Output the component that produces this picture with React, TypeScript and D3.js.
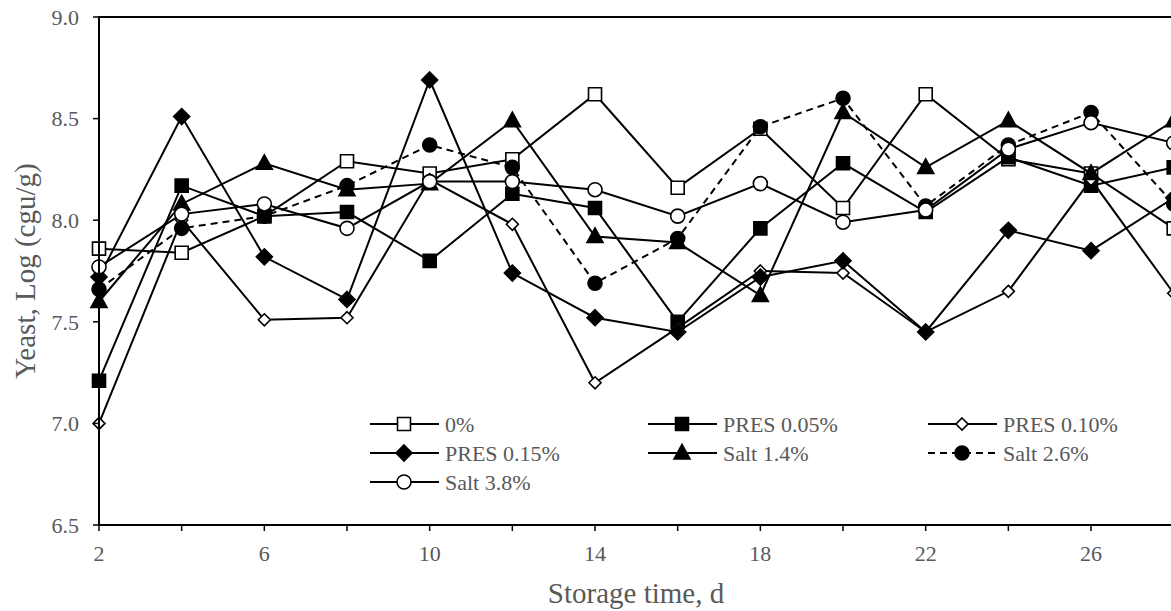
import React from 'react';
import * as d3 from 'd3';

// storage days
const days = [2, 4, 6, 8, 10, 12, 14, 16, 18, 20, 22, 24, 26, 28];

// yeast counts, log cgu/g
const control = [7.86, 7.84, 8.02, 8.29, 8.23, 8.30, 8.62, 8.16, 8.45, 8.06, 8.62, 8.30, 8.23, 7.96];
const pres005 = [7.21, 8.17, 8.02, 8.04, 7.80, 8.13, 8.06, 7.50, 7.96, 8.28, 8.04, 8.31, 8.17, 8.26];
const pres010 = [7.00, 8.00, 7.51, 7.52, 8.20, 7.98, 7.20, 7.47, 7.75, 7.74, 7.45, 7.65, 8.20, 7.64];
const pres015 = [7.72, 8.51, 7.82, 7.61, 8.69, 7.74, 7.52, 7.45, 7.72, 7.80, 7.45, 7.95, 7.85, 8.11];
const salt14 = [7.60, 8.08, 8.28, 8.15, 8.18, 8.49, 7.92, 7.89, 7.63, 8.53, 8.26, 8.49, 8.23, 8.49];
const salt26 = [7.66, 7.96, 8.02, 8.17, 8.37, 8.26, 7.69, 7.91, 8.46, 8.60, 8.07, 8.37, 8.53, 8.08];
const salt38 = [7.77, 8.03, 8.08, 7.96, 8.19, 8.19, 8.15, 8.02, 8.18, 7.99, 8.05, 8.35, 8.48, 8.38];

const xTickDays = [2, 4, 6, 8, 10, 12, 14, 16, 18, 20, 22, 24, 26, 28];
const xTickLabels = ['2', '6', '10', '14', '18', '22', '26'];
const yTickLabels = ['6.5', '7.0', '7.5', '8.0', '8.5', '9.0'];

type Marker = 'square' | 'diamond' | 'smallDiamond' | 'triangle' | 'circle';

const series = [
  { name: '0%', values: control, marker: 'square' as Marker, filled: false, dashed: false },
  { name: 'PRES 0.05%', values: pres005, marker: 'square' as Marker, filled: true, dashed: false },
  { name: 'PRES 0.10%', values: pres010, marker: 'smallDiamond' as Marker, filled: false, dashed: false },
  { name: 'PRES 0.15%', values: pres015, marker: 'diamond' as Marker, filled: true, dashed: false },
  { name: 'Salt 1.4%', values: salt14, marker: 'triangle' as Marker, filled: true, dashed: false },
  { name: 'Salt 2.6%', values: salt26, marker: 'circle' as Marker, filled: true, dashed: true },
  { name: 'Salt 3.8%', values: salt38, marker: 'circle' as Marker, filled: false, dashed: false },
];

const W = 1171;
const H = 611;
const textColor = '#595959';
const font = '"Liberation Serif", "Times New Roman", serif';

const x = d3.scaleLinear().domain([2, 28]).range([99, 1173.7]);
const y = d3.scaleLinear().domain([6.5, 9]).range([525, 17]);

function markerPath(m: Marker, cx: number, cy: number) {
  switch (m) {
    case 'square':
      return `M${cx - 6.5},${cy - 6.5}h13v13h-13Z`;
    case 'diamond':
      return `M${cx},${cy - 8}L${cx + 8},${cy}L${cx},${cy + 8}L${cx - 8},${cy}Z`;
    case 'smallDiamond':
      return `M${cx},${cy - 6}L${cx + 6},${cy}L${cx},${cy + 6}L${cx - 6},${cy}Z`;
    default:
      return `M${cx},${cy - 8.5}L${cx + 8},${cy + 6}L${cx - 8},${cy + 6}Z`;
  }
}

function MarkerShape({ m, cx, cy, filled }: { m: Marker; cx: number; cy: number; filled: boolean }) {
  const fill = filled ? '#000' : '#fff';
  if (m === 'circle') {
    return <circle cx={cx} cy={cy} r={7} fill={fill} stroke="#000" strokeWidth={1.6} />;
  }
  return <path d={markerPath(m, cx, cy)} fill={fill} stroke="#000" strokeWidth={1.6} />;
}

const legendCols = [370, 648, 928];
const legendRows = [424, 453, 482];

export default function App() {
  const line = d3
    .line<number>()
    .x((_, i) => x(days[i]))
    .y(d => y(d));

  const yTicks = d3.range(6.5, 9.01, 0.5);
  const labelDays = xTickLabels.map(Number);

  return (
    <svg
      width={W}
      height={H}
      style={{ position: 'absolute', left: 0, top: 0, background: '#fff' }}
      fontFamily={font}
    >
      {/* series */}
      {series.map(s => (
        <g key={s.name}>
          <path
            d={line(s.values) as string}
            fill="none"
            stroke="#000"
            strokeWidth={2}
            strokeDasharray={s.dashed ? '7,5' : undefined}
          />
          {s.values.map((v, i) => (
            <MarkerShape key={i} m={s.marker} cx={x(days[i])} cy={y(v)} filled={s.filled} />
          ))}
        </g>
      ))}

      {/* axes */}
      <line x1={x(2)} x2={W} y1={y(9)} y2={y(9)} stroke="#000" strokeWidth={2} />
      <line x1={x(2)} x2={W} y1={y(6.5)} y2={y(6.5)} stroke="#000" strokeWidth={2} />
      <line x1={x(2)} x2={x(2)} y1={y(9) - 1} y2={y(6.5) + 1} stroke="#000" strokeWidth={2} />

      {yTicks.map((t, i) => (
        <g key={t} transform={`translate(${x(2)},${y(t)})`}>
          <line x1={-6} x2={0} stroke="#000" strokeWidth={1.5} />
          <text x={-20} dy="0.35em" textAnchor="end" fontSize={22} fill={textColor}>
            {yTickLabels[i]}
          </text>
        </g>
      ))}

      {xTickDays.map(d => (
        <line key={d} x1={x(d)} x2={x(d)} y1={y(6.5)} y2={y(6.5)} stroke="#000" strokeWidth={1.5} />
      ))}
      {xTickDays.map(d => (
        <line key={'t' + d} x1={x(d)} x2={x(d)} y1={y(6.5)} y2={y(6.5) + 6} stroke="#000" strokeWidth={1.5} />
      ))}
      {labelDays.map((d, i) => (
        <text key={d} x={x(d)} y={y(6.5) + 36} textAnchor="middle" fontSize={22} fill={textColor}>
          {xTickLabels[i]}
        </text>
      ))}

      <text x={636} y={603} textAnchor="middle" fontSize={29} fill={textColor}>
        Storage time, d
      </text>
      <text
        transform={`translate(35,${(y(9) + y(6.5)) / 2}) rotate(-90)`}
        textAnchor="middle"
        fontSize={29}
        fill={textColor}
      >
        Yeast, Log (cgu/g)
      </text>

      {/* legend */}
      {series.map((s, i) => {
        const lx = legendCols[i % 3];
        const ly = legendRows[Math.floor(i / 3)];
        return (
          <g key={s.name}>
            <line
              x1={lx}
              x2={lx + 69}
              y1={ly}
              y2={ly}
              stroke="#000"
              strokeWidth={2}
              strokeDasharray={s.dashed ? '7,5' : undefined}
            />
            <MarkerShape m={s.marker} cx={lx + 34} cy={ly} filled={s.filled} />
            <text x={lx + 75} y={ly} dy="0.35em" fontSize={22} fill={textColor}>
              {s.name}
            </text>
          </g>
        );
      })}
    </svg>
  );
}
